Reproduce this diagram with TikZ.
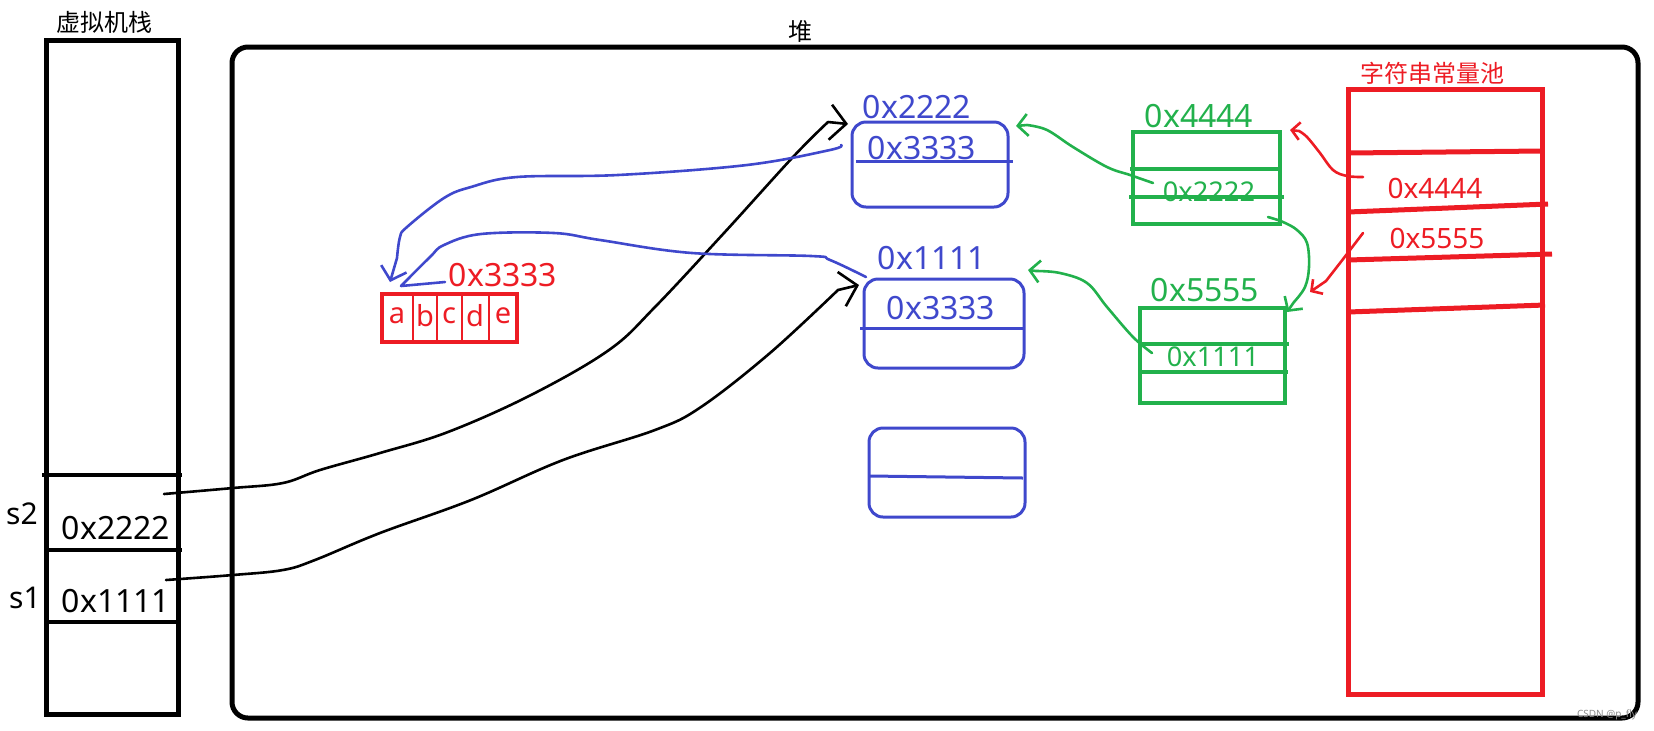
\documentclass[tikz,border=0pt]{standalone}
\usepackage{fontspec}
\setmainfont{Noto Sans}
\newfontfamily\cjk{Noto Sans CJK SC}
\usetikzlibrary{arrows.meta}
\definecolor{heapblue}{RGB}{63,72,204}
\definecolor{heapgreen}{RGB}{34,177,76}
\definecolor{poolred}{RGB}{237,28,36}
\tikzset{
  frame/.style={draw,line width=2.5pt,inner sep=0pt},
  bluebox/.style={draw=heapblue,line width=1.5pt,rounded corners=7pt,inner sep=0pt},
  greenbox/.style={draw=heapgreen,line width=2pt,inner sep=0pt},
  redbox/.style={draw=poolred,line width=2.5pt,inner sep=0pt},
  pen/.style={line width=1.3pt,line cap=round,line join=round},
  hook/.style={-{Straight Barb[length=#1,width=2.2*#1,line width=1.3pt]}},
  bigaddr/.style={inner sep=0pt,font=\fontsize{16}{16}\selectfont},
  smalladdr/.style={inner sep=0pt,font=\fontsize{13.6}{14}\selectfont},
  hanzi/.style={inner sep=0pt,font=\cjk\fontsize{12}{12}\selectfont},
}

\begin{document}
\begin{tikzpicture}[x=0.5pt,y=-0.5pt]
  \useasboundingbox (0,0) rectangle (1654,730);

  % virtual machine stack
  \node[frame,minimum width=66pt,minimum height=337pt] (stack) at (112,377) {};
  \node[hanzi] (stacktitle) at (104,22) {虚拟机栈};
  \draw[line width=2pt] (42,475) -- (182,475);
  \draw[line width=2pt] (46,550) -- (182,550);
  \draw[line width=2pt] (46,622) -- (178,622);
  \node[bigaddr,font=\fontsize{15}{15}\selectfont] (s2name) at (22,514) {s2};
  \node[bigaddr] (s2val) at (116,528) {0x2222};
  \node[bigaddr,font=\fontsize{15}{15}\selectfont] (s1name) at (25,598) {s1};
  \node[bigaddr] (s1val) at (116,601) {0x1111};

  % heap
  \node[frame,rounded corners=8pt,minimum width=703pt,minimum height=335.5pt] (heap) at (935,382.5) {};
  \node[hanzi] (heaptitle) at (800,31) {堆};

  % String objects
  \node[bluebox,minimum width=78pt,minimum height=42.5pt] (objA) at (930,164.5) {};
  \draw[heapblue,line width=1.5pt] (856,161) -- (1013,161);
  \node[bigaddr,text=heapblue] (objAaddr) at (917,107) {0x2222};
  \node[bigaddr,text=heapblue] (objAval) at (922,148) {0x3333};

  \node[bluebox,minimum width=80pt,minimum height=44.5pt] (objB) at (944,323.5) {};
  \draw[heapblue,line width=1.5pt] (860,328) -- (1024,328);
  \node[bigaddr,text=heapblue] (objBaddr) at (932,258) {0x1111};
  \node[bigaddr,text=heapblue] (objBval) at (941,308) {0x3333};

  \node[bluebox,minimum width=78pt,minimum height=44.5pt] (objC) at (947,472.5) {};
  \draw[heapblue,line width=1.5pt] (870,476) -- (1023,478);

  % char array
  \node[draw=poolred,line width=2pt,inner sep=0pt,minimum width=67.5pt,minimum height=24pt] (chars) at (449.5,318) {};
  \foreach \dx in {413,437,462,489}
    \draw[poolred,line width=1pt] (\dx,294) -- (\dx,342);
  \foreach \cx/\ch in {397/a,425/b,449/c,475/d,503/e}
    \node[inner sep=0pt,text=poolred,font=\fontsize{14.5}{15}\selectfont] (ch-\ch) at (\cx,316) {\ch};
  \node[bigaddr,text=poolred] (charsaddr) at (503,275) {0x3333};

  % entries in the pool
  \node[greenbox,minimum width=73.5pt,minimum height=46pt] (strA) at (1206.5,178) {};
  \draw[heapgreen,line width=2pt] (1130,169) -- (1280,169);
  \draw[heapgreen,line width=2pt] (1129,197) -- (1284,197);
  \node[bigaddr,text=heapgreen] (strAaddr) at (1199,116) {0x4444};
  \node[smalladdr,text=heapgreen] (strAval) at (1209,192) {0x2222};

  \node[greenbox,minimum width=72.5pt,minimum height=47.5pt] (strB) at (1212.5,355.5) {};
  \draw[heapgreen,line width=2pt] (1140,344) -- (1289,344);
  \draw[heapgreen,line width=2pt] (1140,372) -- (1288,372);
  \node[bigaddr,text=heapgreen] (strBaddr) at (1205,290) {0x5555};
  \node[smalladdr,text=heapgreen] (strBval) at (1213,357) {0x1111};

  % string constant pool
  \node[redbox,minimum width=97pt,minimum height=302.5pt] (pool) at (1445,391.5) {};
  \node[hanzi,text=poolred] (pooltitle) at (1432,73) {字符串常量池};
  \draw[poolred,line width=2.5pt] (1348,153) -- (1542,151);
  \draw[poolred,line width=2.5pt] (1348,212) -- (1548,204);
  \draw[poolred,line width=2.5pt] (1348,260) -- (1552,254);
  \draw[poolred,line width=2.5pt] (1348,312) -- (1545,305);
  \node[smalladdr,text=poolred,font=\fontsize{14}{14}\selectfont] (pool4) at (1435,188) {0x4444};
  \node[smalladdr,text=poolred,font=\fontsize{14}{14}\selectfont] (pool5) at (1437,238) {0x5555};

  \node[inner sep=0pt,text=black!45,font=\fontsize{5}{5}\selectfont] (mark) at (1607,715) {CSDN @p\_fly};

  % connector ends
  \coordinate (s2ptr) at (164,494);
  \coordinate (s1ptr) at (166,580);
  \coordinate (objAin) at (848,124);
  \coordinate (objBin) at (859,285);
  \coordinate (objAout) at (841,145);
  \coordinate (objBout) at (866,277);
  \coordinate (charsinA) at (390,282);
  \coordinate (charsinB) at (401,286);
  \coordinate (charlbl) at (445,282);
  \coordinate (strAslot) at (1153,183);
  \coordinate (strBslot) at (1152,353);
  \coordinate (objAright) at (1016,126);
  \coordinate (objBright) at (1028,270);
  \coordinate (strAout) at (1268,217);
  \coordinate (strBin) at (1287,312);
  \coordinate (pool4slot) at (1363,177);
  \coordinate (pool5slot) at (1363,233);
  \coordinate (strAhook) at (1290,130);
  \coordinate (strBhook) at (1310,292);

  % stack -> heap
  \draw[pen,hook=8pt] plot[smooth,tension=0.6] coordinates {(s2ptr) (233,488) (283,483) (320,470)
    (380,453) (448,432) (531,395) (609,350) (655,307) (724,233) (793,157) (828,122)} -- (objAin);
  \draw[pen,hook=8pt] plot[smooth,tension=0.6] coordinates {(s1ptr) (233,575) (283,570) (315,560)
    (380,533) (471,500) (563,460) (655,430) (701,407) (770,353) (838,290)} -- (objBin);

  % value -> char array
  \draw[pen,heapblue,hook=6pt] plot[smooth,tension=0.6] coordinates {(objAout) (830,150) (747,165)
    (618,175) (517,177) (471,187) (444,198) (407,227) (400,237) (397,258)} -- (charsinA);
  \draw[pen,heapblue] plot[smooth,tension=0.6] coordinates {(objBout) (830,260) (811,256) (692,253)
    (600,240) (554,233) (481,234) (444,245) (430,257) (charsinB)} -- (charlbl);

  % pool entries -> objects
  \draw[pen,heapgreen,hook=5pt] plot[smooth,tension=0.6] coordinates {(strAslot) (1130,175) (1107,167)
    (1073,147) (1047,130) (1027,125)} -- (objAright);
  \draw[pen,heapgreen,hook=5pt] plot[smooth,tension=0.6] coordinates {(strBslot) (1133,337) (1107,307)
    (1087,283) (1060,273) (1036,271)} -- (objBright);
  \draw[pen,heapgreen,hook=5pt] plot[smooth,tension=0.6] coordinates {(strAout) (1283,222) (1297,230)
    (1307,243) (1309,267) (1305,287) (1294,302)} -- (strBin);
  \draw[pen,poolred,hook=4pt] plot[smooth,tension=0.6] coordinates {(pool4slot) (1347,176) (1333,170)
    (1320,153) (1307,137) (1299,131)} -- (strAhook);
  \draw[pen,poolred,hook=4pt] plot[smooth,tension=0.6] coordinates {(pool5slot) (1350,250) (1340,263)
    (1326,281)} -- (strBhook);
\end{tikzpicture}
\end{document}
